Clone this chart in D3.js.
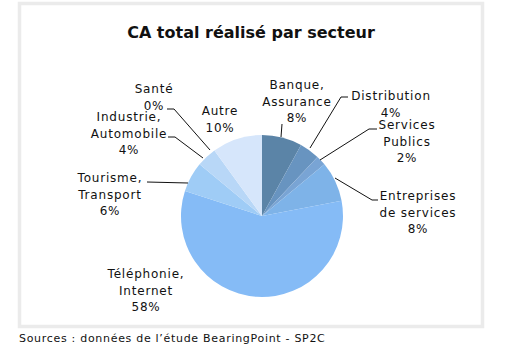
<!DOCTYPE html>
<html>
<head>
<meta charset="utf-8">
<script src="https://cdn.jsdelivr.net/npm/d3@7/dist/d3.min.js"></script>
<style>
  html, body { margin: 0; padding: 0; background: #fff; }
  svg text { font-family: "DejaVu Sans", Verdana, sans-serif; fill: #111; }
</style>
</head>
<body>
<svg id="chart" width="515" height="349"></svg>
<script>
// Sectors, clockwise from 12 o'clock
const sectors = ["Banque, Assurance", "Distribution", "Services Publics", "Entreprises de services",
                 "Téléphonie, Internet", "Tourisme, Transport", "Industrie, Automobile", "Santé", "Autre"];
const shares = [8, 4, 2, 8, 58, 6, 4, 0, 10];
const colors = ["#5b84a7", "#6894c0", "#79a4d4", "#7eb3e8", "#85bbf6", "#9fccf6", "#b8d7f7", "#c9e0f9", "#d6e6fb"];

// Label text lines and placement (center x, first baseline y) plus leader line points
const labelLines = [
  ["Banque,", "Assurance", "8%"],
  ["Distribution", "4%"],
  ["Services", "Publics", "2%"],
  ["Entreprises", "de services", "8%"],
  ["Téléphonie,", "Internet", "58%"],
  ["Tourisme,", "Transport", "6%"],
  ["Industrie,", "Automobile", "4%"],
  ["Santé", "0%"],
  ["Autre", "10%"]
];
const labelPos = [
  [297, 89], [391, 100], [407, 129], [418, 200], [146, 278], [110, 182], [129, 121], [154, 93], [220, 115]
];
const leaders = [
  [[282, 124], [281, 137]],
  [[348, 97], [341, 97], [310, 148]],
  [[377, 129], [369, 129], [320, 160]],
  [[378, 200], [372, 200], [335, 178]],
  null,
  [[147, 182], [188, 183]],
  [[168, 137], [175, 137], [203, 158]],
  [[167, 109], [174, 109], [210, 150]],
  null
];

const svg = d3.select("#chart");

// Light frame around the chart area
svg.append("rect")
  .attr("x", 19.5).attr("y", 3.5).attr("width", 463).attr("height", 323)
  .attr("fill", "#fff").attr("stroke", "#ebebeb").attr("stroke-width", 3.5);

svg.append("text")
  .attr("x", 251).attr("y", 38)
  .attr("text-anchor", "middle")
  .style("font-size", "16px").style("font-weight", "bold")
  .text("CA total réalisé par secteur");

const cx = 262, cy = 216, r = 81;
const pie = d3.pie().sort(null).value(d => d)(shares);
const arc = d3.arc().innerRadius(0).outerRadius(r);

const g = svg.append("g").attr("transform", `translate(${cx},${cy})`);
g.selectAll("path")
  .data(pie)
  .join("path")
  .attr("d", arc)
  .attr("fill", (d, i) => colors[i]);

// Leader lines
const line = d3.line();
svg.selectAll("path.leader")
  .data(leaders.filter(l => l))
  .join("path")
  .attr("class", "leader")
  .attr("d", line)
  .attr("fill", "none")
  .attr("stroke", "#111")
  .attr("stroke-width", 1);

// Labels
labelLines.forEach((lines, i) => {
  const t = svg.append("text")
    .attr("text-anchor", "middle")
    .style("font-size", "12px")
    .style("letter-spacing", "0.8px");
  lines.forEach((s, k) => {
    t.append("tspan")
      .attr("x", labelPos[i][0])
      .attr("y", labelPos[i][1] + k * 16.5)
      .text(s);
  });
});

svg.append("text")
  .attr("x", 19).attr("y", 342)
  .style("font-size", "11px")
  .style("letter-spacing", "0.7px")
  .text("Sources : données de l’étude BearingPoint - SP2C");
</script>
</body>
</html>
